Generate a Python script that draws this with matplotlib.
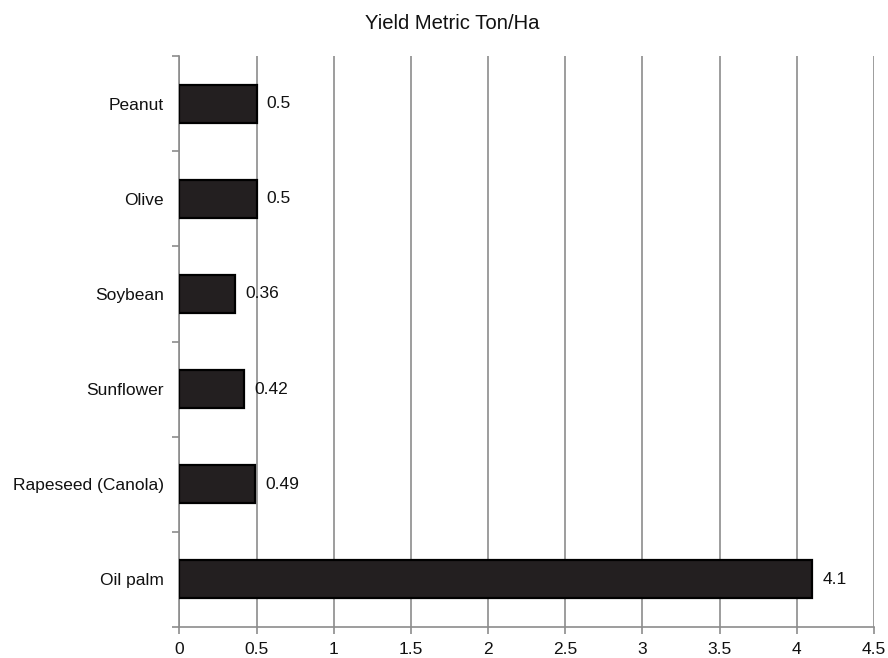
import matplotlib
matplotlib.use("Agg")
import matplotlib.pyplot as plt
from matplotlib.ticker import FixedLocator

crops = ["Oil palm", "Rapeseed (Canola)", "Sunflower", "Soybean", "Olive", "Peanut"]
yields = [4.1, 0.49, 0.42, 0.36, 0.5, 0.5]
labels = ["4.1", "0.49", "0.42", "0.36", "0.5", "0.5"]
xticks = [0, 0.5, 1, 1.5, 2, 2.5, 3, 3.5, 4, 4.5]
xticklabels = ["0", "0.5", "1", "1.5", "2", "2.5", "3", "3.5", "4", "4.5"]

plt.rcParams["font.family"] = ["Liberation Sans", "DejaVu Sans"]

fig = plt.figure(figsize=(8.88, 6.58), dpi=100)
ax = fig.add_axes([0.2021, 0.0471, 0.7821, 0.8678])

pos = list(range(len(crops)))
ax.barh(pos, yields, height=0.4, color="#231f20", edgecolor="#000000", linewidth=1.6, zorder=3)
for p, v, t in zip(pos, yields, labels):
    ax.text(v + 0.065, p, t, va="center", ha="left", fontsize=12.5, color="#111111", zorder=4)

ax.set_xlim(0, 4.5)
ax.set_ylim(-0.5, len(crops) - 0.5)
ax.set_xticks(xticks)
ax.set_xticklabels(xticklabels)
ax.set_yticks(pos)
ax.set_yticklabels(crops)
ax.yaxis.set_minor_locator(FixedLocator([i - 0.5 for i in range(len(crops) + 1)]))

ax.grid(axis="x", color="#8c8c8c", linewidth=1.2, zorder=0)
for s in ["top", "right"]:
    ax.spines[s].set_visible(False)
for s in ["left", "bottom"]:
    ax.spines[s].set_color("#8c8c8c")
    ax.spines[s].set_linewidth(1.2)

ax.tick_params(axis="y", which="major", length=0, pad=11, labelsize=12.5, labelcolor="#111111")
ax.tick_params(axis="y", which="minor", length=5, color="#8c8c8c", width=1.2)
ax.tick_params(axis="x", which="major", length=5, color="#8c8c8c", width=1.2, pad=6,
               labelsize=12.5, labelcolor="#111111")

fig.text(0.509, 0.965, "Yield Metric Ton/Ha", ha="center", va="center", fontsize=14.6, color="#111111")

fig.savefig("out.png", dpi=100, facecolor="white")
